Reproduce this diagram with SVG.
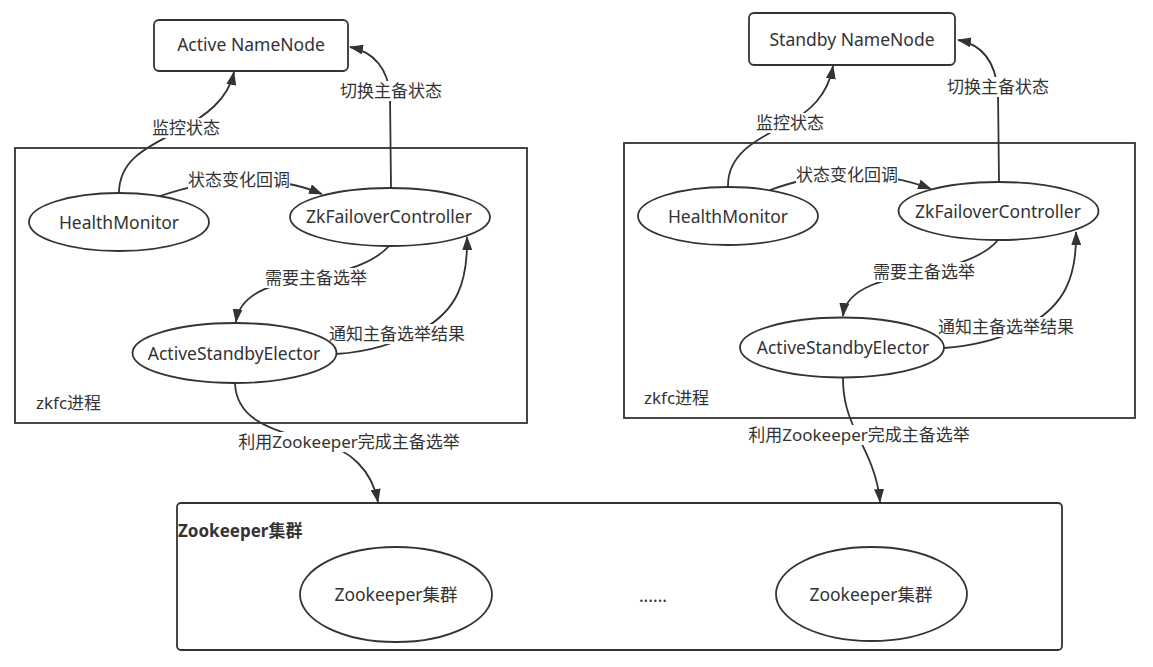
<svg xmlns="http://www.w3.org/2000/svg" width="1153" height="667" viewBox="0 0 1153 667">
<style>
text{font-family:"Noto Sans","Noto Sans CJK SC",sans-serif;font-size:17px;fill:#333;}
.n{font-size:17.5px;}
.c{text-anchor:middle;}
.box{fill:none;stroke:#333;stroke-width:1.8;}
.nd{fill:#fff;stroke:#333;stroke-width:1.8;}
.ln{fill:none;stroke:#333;stroke-width:1.8;marker-end:url(#ah);}
.lb{fill:#fff;}
.bold{font-weight:bold;}
</style>
<defs>
<marker id="ah" viewBox="0 0 14 10" refX="13" refY="5" markerWidth="14" markerHeight="10" markerUnits="userSpaceOnUse" orient="auto">
<path d="M0,0 L14,5 L0,10 z" fill="#333"/>
</marker>
</defs>
<rect width="1153" height="667" fill="#fff"/>

<g id="zkfc-left"><rect class="box" x="15" y="148" width="512" height="275"/><text x="36" y="409">zkfc进程</text></g>
<g id="zkfc-right"><rect class="box" x="624" y="143" width="511" height="275"/><text x="644" y="404">zkfc进程</text></g>
<g id="zk-cluster"><rect class="box" x="177" y="503" width="885" height="147" rx="4"/><text class="bold" x="178" y="537">Zookeeper集群</text></g>

<g id="connectors">
<path class="ln" d="M119,193 C119,158 150,146 180,130 C205,116 228,100 234,72"/>
<path class="ln" d="M391,188 L390,95 C388,70 375,52 350,47"/>
<path class="ln" d="M160,196 C185,188 205,182 240,181 C280,180 300,185 322,194"/>
<path class="ln" d="M389,246 C375,262 345,272 316,277 C280,282 240,290 236,322"/>
<path class="ln" d="M336,354 C370,352 400,342 425,328 C455,310 468,285 467,237"/>
<path class="ln" d="M235,383 C236,415 262,430 320,442 C350,450 372,470 378,502"/>

<path class="ln" d="M728,187 C727,155 755,140 785,125 C810,112 828,95 833,66"/>
<path class="ln" d="M999,182 L998,92 C996,66 985,45 958,40"/>
<path class="ln" d="M770,190 C790,183 812,176 847,175 C880,174 905,179 931,189"/>
<path class="ln" d="M998,240 C985,256 955,266 924,272 C890,278 846,286 843,316"/>
<path class="ln" d="M944,348 C975,346 1005,338 1032,323 C1062,305 1077,280 1076,232"/>
<path class="ln" d="M843,378 C843,400 848,415 856,432 C866,452 878,475 880,502"/>

<g id="labels">
<rect class="lb" x="152" y="118" width="68" height="20"/><text class="c" x="186" y="134">监控状态</text>
<rect class="lb" x="340" y="81" width="102" height="20"/><text class="c" x="391" y="97">切换主备状态</text>
<rect class="lb" x="188" y="170" width="102" height="20"/><text class="c" x="239" y="186">状态变化回调</text>
<rect class="lb" x="265" y="268" width="102" height="20"/><text class="c" x="316" y="284">需要主备选举</text>
<rect class="lb" x="329" y="324" width="136" height="20"/><text class="c" x="397" y="340">通知主备选举结果</text>
<rect class="lb" x="237" y="432" width="224" height="20"/><text class="c" x="349" y="448">利用Zookeeper完成主备选举</text>

<rect class="lb" x="756" y="113" width="68" height="20"/><text class="c" x="790" y="129">监控状态</text>
<rect class="lb" x="947" y="77" width="102" height="20"/><text class="c" x="998" y="93">切换主备状态</text>
<rect class="lb" x="796" y="165" width="102" height="20"/><text class="c" x="847" y="181">状态变化回调</text>
<rect class="lb" x="873" y="262" width="102" height="20"/><text class="c" x="924" y="278">需要主备选举</text>
<rect class="lb" x="938" y="317" width="136" height="20"/><text class="c" x="1006" y="333">通知主备选举结果</text>
<rect class="lb" x="747" y="425" width="224" height="20"/><text class="c" x="859" y="441">利用Zookeeper完成主备选举</text>
</g>
</g>

<g id="active-namenode"><rect class="nd" x="154" y="20" width="194" height="51" rx="5"/><text class="c n" x="251" y="51">Active NameNode</text></g>
<g id="standby-namenode"><rect class="nd" x="749" y="13" width="206" height="52" rx="5"/><text class="c n" x="852" y="46">Standby NameNode</text></g>

<g id="hm-left"><ellipse class="nd" cx="119" cy="222" rx="90" ry="29"/><text class="c n" x="119" y="229">HealthMonitor</text></g>
<g id="zkfc-ctl-left"><ellipse class="nd" cx="390" cy="217" rx="100" ry="29"/><text class="c n" x="389" y="223">ZkFailoverController</text></g>
<g id="ase-left"><ellipse class="nd" cx="234.5" cy="353" rx="102" ry="30"/><text class="c n" x="234" y="360">ActiveStandbyElector</text></g>

<g id="hm-right"><ellipse class="nd" cx="728" cy="216" rx="90" ry="29"/><text class="c n" x="728" y="223">HealthMonitor</text></g>
<g id="zkfc-ctl-right"><ellipse class="nd" cx="998.5" cy="211" rx="100" ry="29"/><text class="c n" x="998" y="218">ZkFailoverController</text></g>
<g id="ase-right"><ellipse class="nd" cx="842" cy="347.5" rx="102" ry="30"/><text class="c n" x="843" y="354">ActiveStandbyElector</text></g>

<g id="zk-1"><ellipse class="nd" cx="396" cy="594.5" rx="96" ry="47.5"/><text class="c n" x="396" y="601">Zookeeper集群</text></g>
<g id="zk-dots"><text class="c n" x="653" y="602">......</text></g>
<g id="zk-2"><ellipse class="nd" cx="871.5" cy="594" rx="95.5" ry="47"/><text class="c n" x="871" y="601">Zookeeper集群</text></g>
</svg>
